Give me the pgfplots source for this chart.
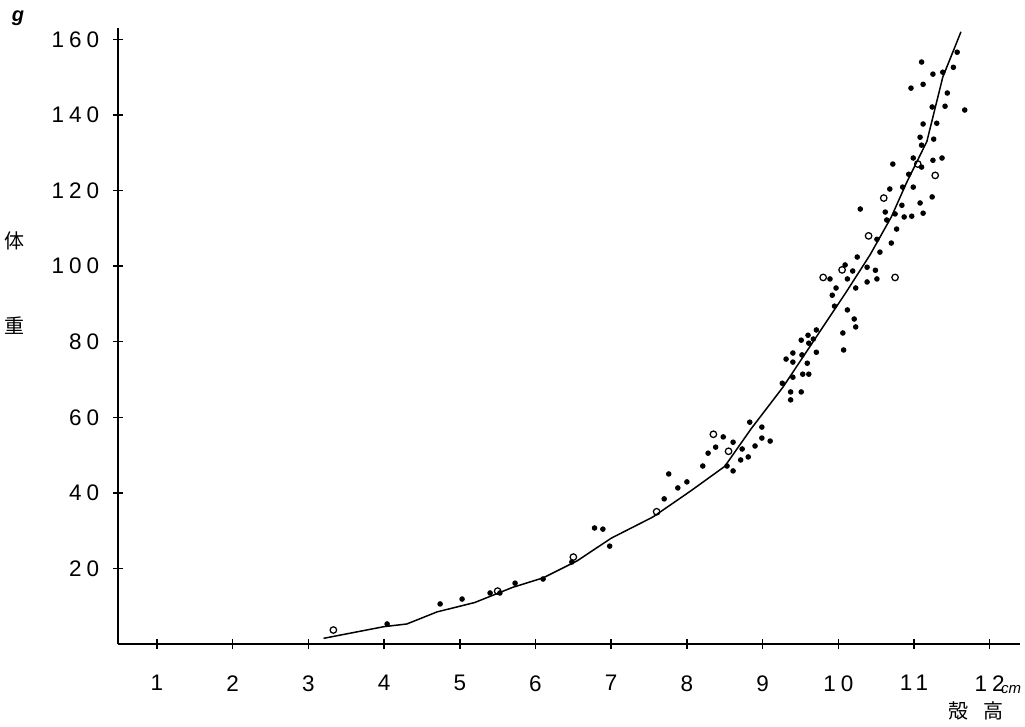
\documentclass[border=0pt]{standalone}
\usepackage{pgfplots}
\pgfplotsset{compat=1.18}
\usepackage{fontspec}
\setmainfont{Liberation Sans}
\newfontfamily\tickfont[LetterSpace=22]{Liberation Sans}
\newfontfamily\cjk{Noto Sans CJK JP}

% growth curve (shell height vs body weight)
\pgfplotstableread{
x y
3.20 1.5
4.00 4.6
4.30 5.3
4.70 8.5
5.20 11.0
5.70 15.0
6.10 17.5
6.55 22.0
7.00 28.0
7.55 33.6
8.05 40.5
8.50 47.0
8.85 57.0
9.27 68.0
9.80 84.0
10.10 93.0
10.42 103.0
10.70 113.0
10.90 122.0
11.17 133.0
11.38 150.0
11.62 162.0
}\curve

\pgfplotstableread{
x y
4.04 5.3
4.74 10.6
5.03 11.9
5.40 13.5
5.53 13.5
5.73 16.1
6.10 17.2
6.48 21.7
6.89 30.4
6.98 25.9
6.78 30.7
7.70 38.4
7.76 45.0
7.88 41.3
8.00 42.9
8.21 47.1
8.28 50.5
8.38 52.1
8.48 54.8
8.53 47.1
8.61 45.8
8.61 53.4
8.71 48.7
8.73 51.6
8.81 49.5
8.83 58.7
8.90 52.4
8.99 54.5
8.99 57.4
9.10 53.7
9.26 69.0
9.31 75.4
9.37 66.7
9.37 64.6
9.40 77.0
9.40 74.6
9.40 70.6
9.51 80.4
9.51 66.7
9.52 76.5
9.53 71.4
9.59 74.3
9.60 81.7
9.61 79.6
9.61 71.4
9.67 80.7
9.71 83.1
9.71 77.2
9.89 96.6
9.92 92.3
9.95 89.4
9.97 94.2
10.06 82.3
10.07 77.8
10.09 100.3
10.12 96.6
10.12 88.4
10.19 98.7
10.21 86.0
10.23 94.2
10.23 83.9
10.25 102.4
10.29 115.1
10.38 99.7
10.38 95.8
10.49 98.9
10.51 107.1
10.51 96.6
10.55 103.7
10.62 114.3
10.64 112.2
10.68 120.4
10.70 106.1
10.72 127.0
10.75 113.8
10.77 109.8
10.84 116.1
10.85 120.9
10.87 113.0
10.93 124.3
10.96 147.1
10.97 113.2
10.99 120.9
10.99 128.6
11.08 116.7
11.08 134.1
11.10 154.0
11.10 132.0
11.10 126.2
11.12 114.0
11.12 148.1
11.12 137.6
11.24 118.3
11.24 142.1
11.25 150.8
11.25 128.0
11.26 133.6
11.30 137.8
11.37 128.6
11.38 151.3
11.41 142.3
11.44 145.8
11.52 152.6
11.57 156.6
11.67 141.3
}\dots

\pgfplotstableread{
x y
3.33 3.7
5.50 14.0
6.50 23.0
7.60 35.0
8.35 55.5
8.55 51.0
9.80 97.0
10.05 99.0
10.40 108.0
10.60 118.0
10.75 97.0
11.05 127.0
11.28 124.0
}\rings

\begin{document}
\begin{tikzpicture}[x=1pt,y=1pt]
\path[use as bounding box] (-47.2,-32.8) rectangle (362.8,257.6);
\begin{axis}[
  at={(0,0)}, anchor=south west,
  scale only axis, width=360.8pt, height=246.4pt,
  xmin=0.485, xmax=12.4, ymin=0, ymax=163,
  axis x line=bottom, axis y line=left,
  axis line style={-, line width=0.8pt},
  xtick={1,...,12}, ytick={20,40,...,160},
  tick align=center, major tick length=4pt,
  tick style={line width=0.6pt, black},
  /pgf/number format/assume math mode=true,
  tick label style={font=\tickfont\fontsize{9}{10}\selectfont},
  xticklabel style={yshift=-7pt},
  yticklabel style={xshift=-2pt},
  clip=false,
]
\addplot[black, line width=0.6pt] table {\curve};
\addplot[only marks, mark=*, mark size=0.9pt, black] table {\dots};
\addplot[only marks, mark=o, mark size=1.3pt, black, line width=0.5pt] table {\rings};
\end{axis}
\node[font=\bfseries\itshape\fontsize{8}{9}\selectfont] at (-40,250.4) {g};
\node[font=\cjk\fontsize{8}{9}\selectfont] at (-41.2,161.2) {体};
\node[font=\cjk\fontsize{8}{9}\selectfont] at (-41.2,127.2) {重};
\node[font=\itshape\fontsize{6}{7}\selectfont] at (357.2,-18.4) {cm};
\node[font=\cjk\fontsize{8}{9}\selectfont] at (336,-26.8) {殻};
\node[font=\cjk\fontsize{8}{9}\selectfont] at (350,-26.8) {高};
\end{tikzpicture}
\end{document}
